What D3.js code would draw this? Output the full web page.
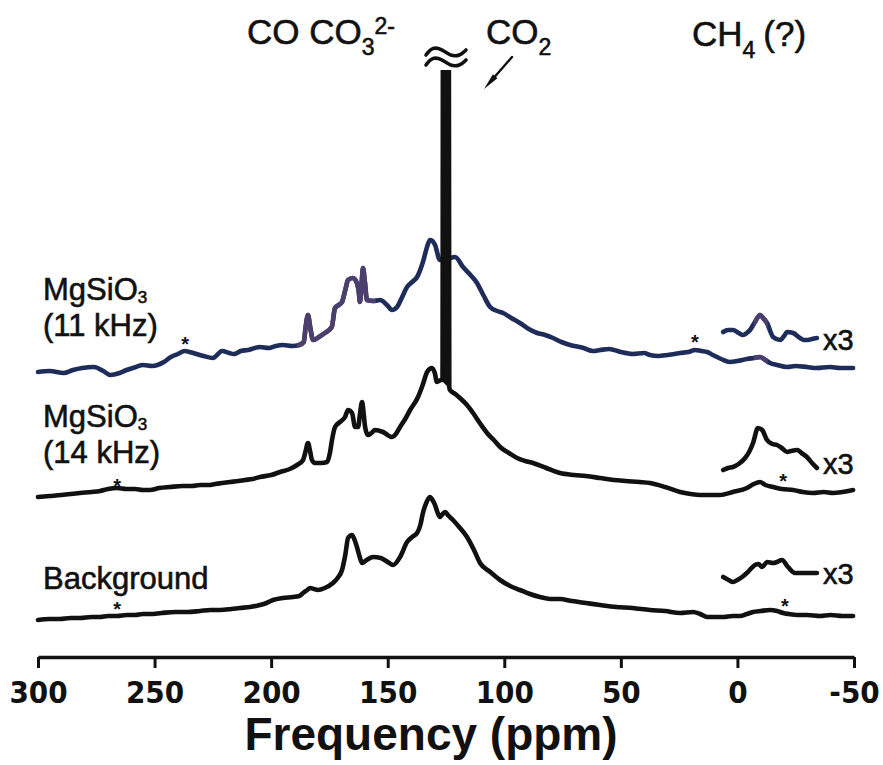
<!DOCTYPE html>
<html>
<head>
<meta charset="utf-8">
<script src="https://cdn.jsdelivr.net/npm/d3@7"></script>
<style>
  html, body { margin: 0; padding: 0; background: #fff; }
  svg { display: block; }
  text { font-family: "Liberation Sans", Arial, Helvetica, sans-serif; }
</style>
</head>
<body>
<svg id="chart" width="883" height="765"></svg>
<script>
// 13C MAS NMR spectra: [chemical shift (ppm), intensity (a.u.)]
const mgsio3_11kHz = [[300,0],[295,1],[289,-1],[285,2],[281,4],[276,5],[272,1],[269,-3],[265,-1],[262,2],[258,5],[255,7],[251,6],[246,10],[243,15],[240,18],[237,21],[235,20],[232,18],[229,16],[225,14],[221,21],[218,19],[216,18],[213,21],[210,22],[207,24],[205,25],[201,24],[198,26],[195,27],[191,26],[188,27],[186,30],[185.2,45],[184.2,57],[183.2,44],[182,32],[179.5,35],[177,39],[174,45],[172.6,64],[171,67],[169.6,70],[168.2,82],[167,92],[165,94],[163.2,89],[162.4,80],[161.9,70],[161.2,88],[160.6,104],[159.8,90],[158.9,72],[156,71],[153.3,72],[150.3,67],[148.2,62],[146,65],[144,74],[141.7,85],[139.5,90],[137.4,95],[134.9,110],[133,126],[131.9,132],[130.8,131],[129.7,127],[127.6,112],[124.5,113],[121.1,115],[117.7,105],[114.5,97],[111.7,89],[109,77],[106.1,65],[103,61],[100.5,59],[97,54],[93.3,49],[89.5,43],[85.9,39],[82.5,37],[79.1,34],[75.5,30],[71.8,27],[66,24],[62,21],[58.9,22],[55,23],[50,20],[45,18],[40,19],[37.5,17],[34,16],[30,17],[27,18],[24.6,19],[21,20],[18.2,22],[15.5,21],[13,20],[10.5,17],[7,13],[3.2,10],[0,11],[-4.1,13],[-7,14],[-9.7,15],[-12,12],[-14,9],[-17,7],[-21.3,5],[-25,6],[-29.8,5],[-34,4],[-39.7,5],[-44,4],[-49.6,4]];

const mgsio3_14kHz = [[300,0],[295,1],[290,2],[286,3],[282,4],[277,5],[273.4,6],[270,8],[266.1,9],[262,8],[258.4,8],[255,7],[252,7],[248,9],[243.4,10],[238,11],[234,11],[230.5,12],[227,12],[224,13],[221,14],[217.6,15],[214,16],[211.2,17],[208,18],[204.8,20],[200,22],[196.2,25],[192,28],[188.9,32],[186.3,37],[185.3,45],[184.2,54],[183.3,46],[182.5,37],[181.2,34],[178.5,34],[176,35],[174.8,44],[173.9,57],[172.6,70],[170.5,75],[168.3,80],[167,87],[165.3,84],[164,70],[162.7,70],[161.8,85],[161,95],[160.3,83],[159.7,70],[158.5,62],[157,64],[155.5,67],[152,65],[148.2,60],[146.5,63],[144.7,70],[142.5,78],[140.4,87],[137,100],[135,112],[133.1,125],[131,129],[129.8,124],[128.9,115],[127.1,117],[126.5,117],[126.2,700],[123.9,700],[123.6,110],[123.3,107],[121,103],[119,99],[116,92],[113.4,84],[110.5,74],[107.4,64],[104.5,57],[101.8,50],[98,44],[94.5,39],[91,36],[87.7,34],[82,29],[76.1,24],[70,22],[65,21],[58.9,19],[53,17],[48,16],[42,15],[37.5,14],[31,10],[24.6,5],[20,3],[16,2],[12,2],[7.5,2],[2,5],[-4.1,9],[-7,13],[-9.7,15],[-12,12],[-15.3,10],[-19,8],[-23.9,7],[-28,5],[-32.4,4],[-37,5],[-41,4],[-45,5],[-49.6,7]];

const background = [[300,0],[295,1],[290.6,1],[286,2],[282,2],[277,3],[273.4,3],[270,4],[266.1,4],[262,5],[258.4,5],[255,6],[252,6],[247,7],[241.2,8],[236,8],[230.5,9],[226,10],[221.9,10],[217,11],[213.4,12],[209,13],[204.8,15],[202,17],[199.2,20],[195,22],[190.6,23],[188,24],[186.3,27],[184.5,30],[183.3,32],[181.6,31],[180,30],[177,32],[173.5,37],[171.5,42],[169.6,50],[168.2,65],[167,82],[165.3,85],[164.2,80],[163.2,73],[162,63],[161,57],[159,60],[156.3,63],[153,62],[150,58],[147.7,55],[144.7,63],[141.7,78],[139.5,83],[137.4,87],[136,95],[134.9,107],[133.3,118],[131.9,123],[130.8,120],[129.7,115],[128.7,108],[127.6,103],[126.4,106],[125.4,108],[123.8,104],[122,100],[119,92],[116,83],[113,70],[110.4,57],[106,48],[101.8,40],[97.5,34],[93.3,30],[89,26],[84.7,23],[80.4,21],[76.1,21],[71,19],[65,17],[58.9,15],[52,13],[45,12],[37.5,10],[31,9],[24.6,7],[19,8],[16,6],[13,3],[9,3],[6.1,3],[2,4],[-1.1,4],[-4,6],[-6.7,8],[-10,9],[-14,10],[-17,9],[-19.6,7],[-22,6],[-25.6,5],[-30,5],[-35.4,4],[-40,5],[-45,4],[-49.6,4]];

// CH4 region shown vertically expanded (x3)
const inset_11kHz = [[6.1,40],[4,42],[1.9,42],[-0.5,39],[-2.4,37],[-4,39],[-5.4,42],[-7.5,50],[-9.7,57],[-11,54],[-12.7,49],[-15.3,35],[-18.3,32],[-20,36],[-21.3,40],[-23.9,39],[-26.8,34],[-28.5,32],[-30.3,32],[-32,33],[-34.1,34]];
const inset_14kHz = [[6.1,27],[4,29],[1.9,30],[-0.5,33],[-3.3,39],[-5,45],[-6.7,54],[-8.8,69],[-10.6,67],[-12.7,57],[-15,53],[-17,52],[-19,49],[-21.3,45],[-23,46],[-25.6,47],[-27.5,44],[-29.8,40],[-32,34],[-34.1,29]];
const inset_background = [[6.1,43],[3.8,40],[1.9,38],[0,40],[-2,43],[-4.5,48],[-7.5,55],[-9,56],[-10.6,53],[-12.7,58],[-15.3,57],[-17,58],[-19.1,60],[-21.7,53],[-24.7,47],[-28.1,47],[-31,47],[-34.1,47]];

// vertical offsets of the stacked traces (a.u.)
const offsets = { top: 268, middle: 143, bottom: 20 };

// spinning sidebands: [ppm, height above trace baseline]
const sidebandsTop = [[236.9, 32], [18.2, 34]];
const sidebandsMiddle = [[266.1, 15], [-19.6, 20]];
const sidebandsBottom = [[266.1, 15], [-20.4, 18]];

const xTicks = [300, 250, 200, 150, 100, 50, 0, -50];

const svg = d3.select("#chart");
const x = d3.scaleLinear().domain([300, -50]).range([38, 854]);
const y = d3.scaleLinear().domain([0, 600]).range([640, 40]);

const navy = "#1d2c58";
const purple = "#4c3f6e";
const black = "#111";

// the off-scale CO2 line is cut just below the break mark
const defs = svg.append("defs");
defs.append("clipPath").attr("id", "plotClip")
  .append("rect").attr("x", 0).attr("y", 70).attr("width", 883).attr("height", 600);
defs.append("clipPath").attr("id", "carbonateClip")
  .append("rect").attr("x", x(189)).attr("y", 70).attr("width", x(155) - x(189)).attr("height", 600);
defs.append("clipPath").attr("id", "ch4Clip")
  .append("rect").attr("x", x(-7)).attr("y", 70).attr("width", x(-13) - x(-7)).attr("height", 600);

const plot = svg.append("g").attr("clip-path", "url(#plotClip)");

function trace(data, off) {
  return d3.line()
    .x(d => x(d[0]))
    .y(d => y(off + d[1]))
    .curve(d3.curveMonotoneX)(data);
}

function drawTrace(parent, data, off, color) {
  parent.append("path")
    .attr("d", trace(data, off))
    .attr("fill", "none")
    .attr("stroke", color)
    .attr("stroke-width", 4.6)
    .attr("stroke-linejoin", "round")
    .attr("stroke-linecap", "round");
}

// MgSiO3, 11 kHz (blue)
drawTrace(plot, mgsio3_11kHz, offsets.top, navy);
drawTrace(plot, inset_11kHz, offsets.top, navy);
const carb = plot.append("g").attr("clip-path", "url(#carbonateClip)");
drawTrace(carb, mgsio3_11kHz, offsets.top, purple);
const ch4 = plot.append("g").attr("clip-path", "url(#ch4Clip)");
drawTrace(ch4, mgsio3_11kHz, offsets.top, purple);
drawTrace(ch4, inset_11kHz, offsets.top, purple);

// MgSiO3, 14 kHz
drawTrace(plot, mgsio3_14kHz, offsets.middle, black);
drawTrace(plot, inset_14kHz, offsets.middle, black);
// the narrow CO2 line is drawn solid
const co2Line = mgsio3_14kHz.filter(d => d[0] <= 126.5 && d[0] >= 123.6);
plot.append("path")
  .attr("d", d3.line().x(d => x(d[0])).y(d => y(offsets.middle + d[1]))(co2Line) + "Z")
  .attr("fill", black).attr("stroke", black).attr("stroke-width", 2);

// Background
drawTrace(plot, background, offsets.bottom, black);
drawTrace(plot, inset_background, offsets.bottom, black);

// sideband markers
function stars(list, off) {
  svg.append("g").selectAll("text").data(list).join("text")
    .attr("x", d => x(d[0]))
    .attr("y", d => y(off + d[1]) + 11)
    .attr("text-anchor", "middle")
    .attr("font-size", 20)
    .attr("font-weight", "bold")
    .attr("fill", black)
    .text("*");
}
stars(sidebandsTop, offsets.top);
stars(sidebandsMiddle, offsets.middle);
stars(sidebandsBottom, offsets.bottom);

// "x3" tags next to the expanded traces
const expanded = [
  { data: inset_11kHz, off: offsets.top },
  { data: inset_14kHz, off: offsets.middle },
  { data: inset_background, off: offsets.bottom }
];
svg.append("g").selectAll("text").data(expanded).join("text")
  .attr("x", x(-34.1) + 6)
  .attr("y", d => y(d.off + d3.mean(d.data.slice(-3), p => p[1])) + 11)
  .attr("font-size", 29)
  .attr("fill", black)
  .attr("stroke", black).attr("stroke-width", 0.6)
  .text("x3");

// trace labels
const labels = svg.append("g").attr("fill", black).attr("stroke", black).attr("stroke-width", 0.6);
function sampleLabel(yy, rate) {
  const t = labels.append("text").attr("x", 43).attr("y", yy).attr("font-size", 31);
  t.append("tspan").text("MgSiO");
  t.append("tspan").attr("font-size", 17).attr("dy", 3).text("3");
  labels.append("text").attr("x", 43).attr("y", yy + 36)
    .attr("font-size", 31).text(rate);
}
sampleLabel(y(offsets.top) - 72, "(11 kHz)");
sampleLabel(y(offsets.middle) - 70, "(14 kHz)");
labels.append("text").attr("x", 43).attr("y", y(offsets.bottom) - 31)
  .attr("font-size", 31).text("Background");

// peak assignments along the top
const head = svg.append("g").attr("fill", black).attr("font-size", 35)
  .attr("stroke", black).attr("stroke-width", 0.6);
const t1 = head.append("text").attr("x", 247).attr("y", 44);
t1.append("tspan").text("CO CO");
t1.append("tspan").attr("font-size", 23).attr("dy", 11).text("3");
t1.append("tspan").attr("font-size", 23).attr("dy", -21).text("2-");

const t2 = head.append("text").attr("x", 486).attr("y", 44);
t2.append("tspan").text("CO");
t2.append("tspan").attr("font-size", 23).attr("dy", 11).text("2");

const t3 = head.append("text").attr("x", 692).attr("y", 46);
t3.append("tspan").text("CH");
t3.append("tspan").attr("font-size", 23).attr("dy", 12).text("4");
t3.append("tspan").attr("dy", -12).attr("dx", 8).text("(?)");

// arrow pointing at the CO2 line
const ax0 = 512, ay0 = 57, ax1 = 484, ay1 = 89;
const len = Math.hypot(ax1 - ax0, ay1 - ay0);
const ux = (ax1 - ax0) / len, uy = (ay1 - ay0) / len;
const bx = ax1 - 17 * ux, by = ay1 - 17 * uy;
svg.append("line").attr("x1", ax0).attr("y1", ay0).attr("x2", bx).attr("y2", by)
  .attr("stroke", black).attr("stroke-width", 2.4).attr("stroke-linecap", "round");
svg.append("path")
  .attr("d", `M${ax1},${ay1}L${bx - 3 * uy},${by + 3 * ux}L${bx + 3 * uy},${by - 3 * ux}Z`)
  .attr("fill", black);

// axis break mark above the off-scale line
const cx = x(125);
const tilde = d3.line().curve(d3.curveBasis);
[52, 62].forEach(ty => {
  svg.append("path")
    .attr("d", tilde([[cx - 20, ty + 3], [cx - 14, ty - 5], [cx - 4, ty - 3], [cx + 4, ty + 4], [cx + 14, ty + 4], [cx + 20, ty - 2]]))
    .attr("fill", "none").attr("stroke", black).attr("stroke-width", 3.6).attr("stroke-linecap", "round");
});

// frequency axis
const axis = svg.append("g")
  .attr("transform", "translate(0,657)")
  .call(d3.axisBottom(x).tickValues(xTicks).tickSize(11).tickSizeOuter(0).tickPadding(13)
    .tickFormat(d => String(d)));
axis.select(".domain").attr("stroke", black).attr("stroke-width", 3.5);
axis.selectAll(".tick line").attr("stroke", black).attr("stroke-width", 3);
axis.selectAll(".tick text")
  .attr("fill", black)
  .attr("font-size", 31)
  .attr("font-weight", "bold")
  .style("font-family", "'Liberation Sans Narrow', 'DejaVu Sans Condensed', sans-serif");

svg.append("text")
  .attr("x", 431).attr("y", 750)
  .attr("text-anchor", "middle")
  .attr("font-size", 46)
  .attr("font-weight", "bold")
  .attr("fill", black)
  .text("Frequency (ppm)");
</script>
</body>
</html>
